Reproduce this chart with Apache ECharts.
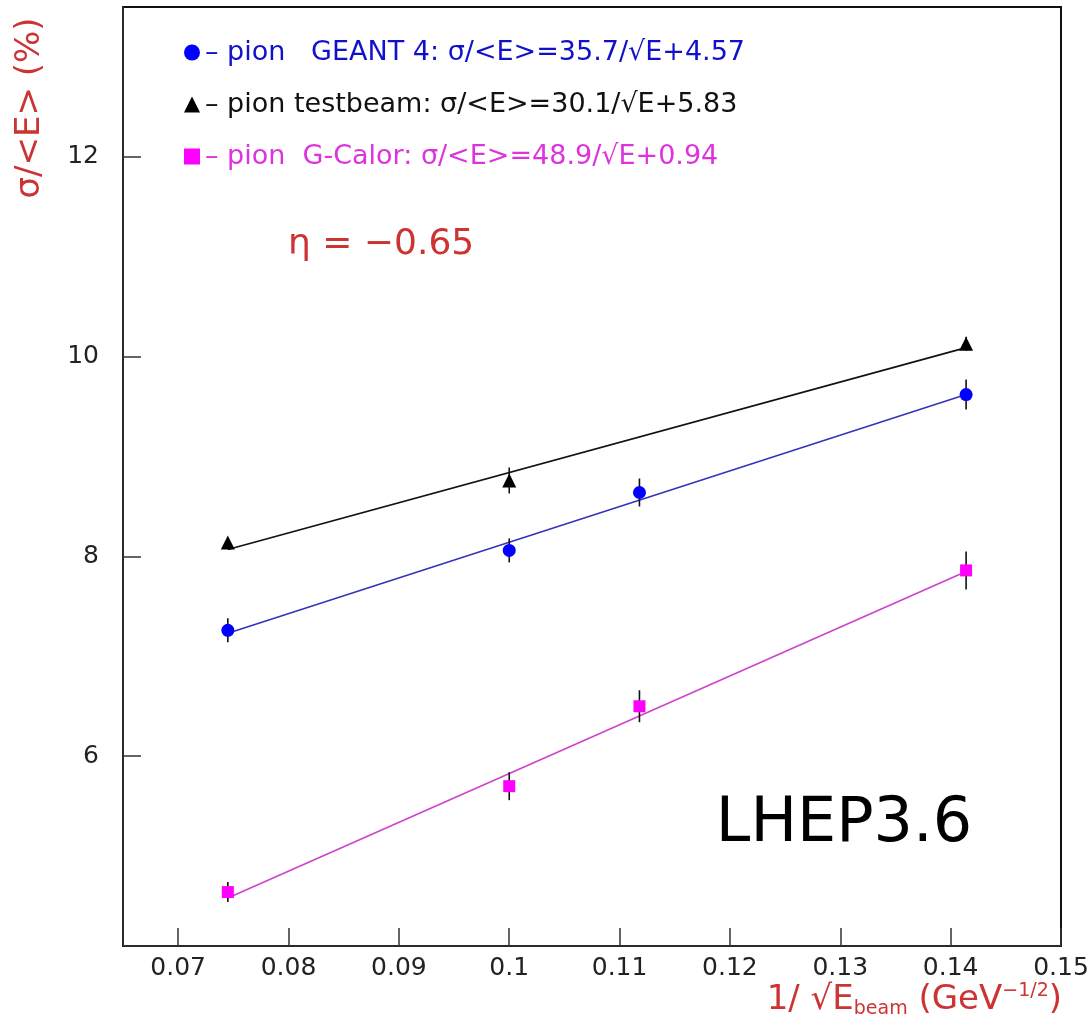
<!DOCTYPE html>
<html>
<head>
<meta charset="utf-8">
<script src="https://cdn.jsdelivr.net/npm/echarts@6/dist/echarts.min.js"></script>
<style>
  html, body { margin: 0; padding: 0; background: #fff; }
  #chart { width: 1092px; height: 1025px; }
</style>
</head>
<body>
<div id="chart"></div>
<script>
// 1/sqrt(E_beam) for 180, 100, 80, 50 GeV
const xTicks = [0.07, 0.08, 0.09, 0.1, 0.11, 0.12, 0.13, 0.14, 0.15]
const yTicks = [6, 8, 10, 12]

// [x, sigma/<E> (%), error]
const geant4 = [[0.0745, 7.26, 0.12], [0.1, 8.06, 0.12], [0.1118, 8.64, 0.14], [0.1414, 9.62, 0.15]]
const testbeam = [[0.0745, 8.14, 0.04], [0.1, 8.76, 0.13], [0.1414, 10.13, 0.07]]
const gcalor = [[0.0745, 4.64, 0.1], [0.1, 5.7, 0.14], [0.1118, 6.5, 0.16], [0.1414, 7.86, 0.19]]

// fit line end points
const geant4Fit = [[0.0745, 7.23], [0.1414, 9.62]]
const testbeamFit = [[0.0745, 8.07], [0.1414, 10.09]]
const gcalorFit = [[0.0745, 4.58], [0.1414, 7.85]]

const names = [
  '– pion   GEANT 4: σ/<E>=35.7/√E+4.57',
  '– pion testbeam: σ/<E>=30.1/√E+5.83',
  '– pion  G-Calor: σ/<E>=48.9/√E+0.94'
]

const font = 'DejaVu Sans'
const red = '#cc3333'

const errorBars = (data) => ({
  type: 'custom',
  data: data,
  z: 3,
  encode: { x: 0, y: 1 },
  renderItem: (params, api) => {
    const x = api.value(0), y = api.value(1), e = api.value(2)
    const p1 = api.coord([x, y + e])
    const p2 = api.coord([x, y - e])
    return {
      type: 'line',
      shape: { x1: p1[0], y1: p1[1], x2: p2[0], y2: p2[1] },
      style: { stroke: '#111', lineWidth: 1.6 }
    }
  }
})

const fitLine = (data, color) => ({
  type: 'line',
  data: data,
  symbol: 'none',
  z: 2,
  lineStyle: { color: color, width: 1.6 },
  silent: true
})

const points = (name, data, symbol, size, color) => ({
  name: name,
  type: 'scatter',
  data: data.map(d => [d[0], d[1]]),
  symbol: symbol,
  symbolSize: size,
  z: 5,
  itemStyle: { color: color, opacity: 1 }
})

const chart = echarts.init(document.getElementById('chart'))
const option = {
  animation: false,
  backgroundColor: '#fff',
  grid: {
    left: 123, top: 7, right: 31, bottom: 79,
    show: true, borderColor: '#111', borderWidth: 2
  },
  legend: {
    left: 179, top: 34, orient: 'vertical',
    itemWidth: 16, itemHeight: 16, itemGap: 25,
    selectedMode: false,
    textStyle: { fontFamily: font, fontSize: 27, lineHeight: 27 },
    data: [
      { name: names[0], icon: 'circle', textStyle: { color: '#1111cc' } },
      { name: names[1], icon: 'triangle', textStyle: { color: '#111' } },
      { name: names[2], icon: 'rect', textStyle: { color: '#dd33dd' } }
    ]
  },
  xAxis: {
    type: 'value', min: 0.065, max: 0.15,
    axisLine: { lineStyle: { color: '#333', width: 1.5 } },
    axisTick: { inside: true, length: 18, customValues: xTicks, lineStyle: { color: '#333', width: 1.5 } },
    axisLabel: {
      customValues: xTicks, margin: 10, color: '#222', fontFamily: font, fontSize: 25,
      formatter: v => String(+v.toFixed(2))
    },
    splitLine: { show: false }
  },
  yAxis: {
    type: 'value', min: 4.1, max: 13.5,
    axisLine: { show: true, lineStyle: { color: '#333', width: 1.5 } },
    axisTick: { show: true, inside: true, length: 18, customValues: yTicks, lineStyle: { color: '#333', width: 1.5 } },
    axisLabel: { customValues: yTicks, margin: 24, color: '#222', fontFamily: font, fontSize: 25 },
    splitLine: { show: false }
  },
  graphic: [
    {
      type: 'text', x: 30, y: 108, rotation: Math.PI / 2,
      style: { text: 'σ/<E> (%)', fill: red, font: '34px "DejaVu Sans"', align: 'center', verticalAlign: 'middle' }
    },
    {
      type: 'text', x: 1062, y: 1000,
      style: {
        text: '{a|1/ √E}{s|beam}{a| (GeV}{p|−1/2}{a|)}',
        align: 'right', verticalAlign: 'middle',
        rich: {
          a: { fill: red, fontFamily: font, fontSize: 34 },
          s: { fill: red, fontFamily: font, fontSize: 19, padding: [18, 0, 0, 0] },
          p: { fill: red, fontFamily: font, fontSize: 19, padding: [0, 0, 18, 0] }
        }
      }
    },
    {
      type: 'text', x: 288, y: 245,
      style: { text: 'η = −0.65', fill: red, font: '36px "DejaVu Sans"', align: 'left', verticalAlign: 'middle' }
    },
    {
      type: 'text', x: 844, y: 825,
      style: { text: 'LHEP3.6', fill: '#000', font: '62px "DejaVu Sans"', align: 'center', verticalAlign: 'middle' }
    }
  ],
  series: [
    fitLine(testbeamFit, '#111'),
    fitLine(geant4Fit, '#3333bb'),
    fitLine(gcalorFit, '#cc44cc'),
    errorBars(testbeam),
    errorBars(geant4),
    errorBars(gcalor),
    points(names[0], geant4, 'circle', 13, '#0000ff'),
    points(names[1], testbeam, 'triangle', 14, '#000'),
    points(names[2], gcalor, 'rect', 12, '#ff00ff')
  ]
}
chart.setOption(option)
</script>
</body>
</html>
